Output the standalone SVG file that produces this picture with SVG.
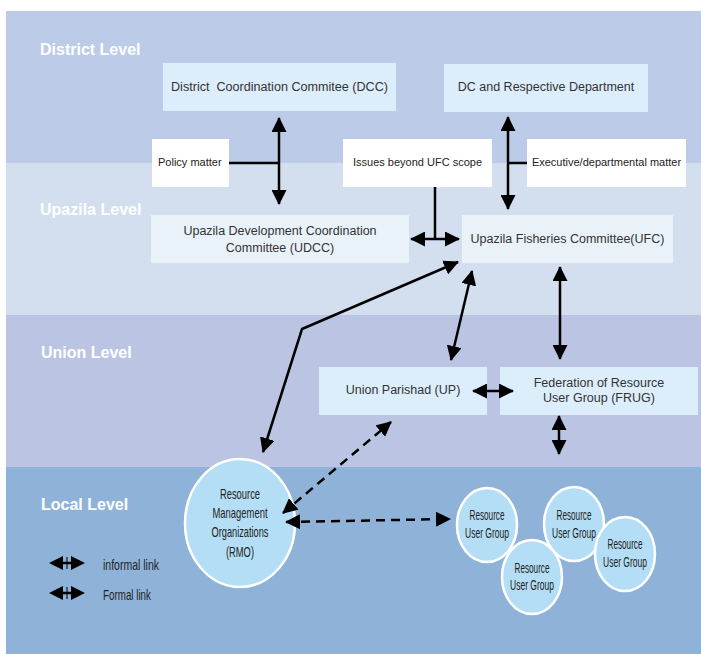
<svg xmlns="http://www.w3.org/2000/svg" width="701" height="654" viewBox="0 0 701 654">
<style>
.lvl{font-family:"Liberation Sans",Arial,sans-serif;font-weight:bold;font-size:16px;fill:#ffffff}
.bx{font-family:"Liberation Sans",Arial,sans-serif;font-size:12.5px;fill:#333333}
.sm{font-family:"Liberation Sans",Arial,sans-serif;font-size:11px;fill:#222222}
.cn{font-family:"Liberation Sans",Arial,sans-serif;font-size:15px;fill:#222222}
.cs{font-family:"Liberation Sans",Arial,sans-serif;font-size:14px;fill:#222222}
.ln{fill:none;stroke:#000;stroke-width:2.5}
.ar{fill:none;stroke:#000;stroke-width:2.5;marker-start:url(#ah);marker-end:url(#ah)}
.da{fill:none;stroke:#000;stroke-width:2.5;stroke-dasharray:9 6;marker-start:url(#ah);marker-end:url(#ah)}
.c{fill:#B4DEF5;stroke:#ffffff;stroke-width:2.5}
</style>
<defs>
<marker id="ah" viewBox="0 0 15 15" refX="14" refY="7.5" markerWidth="15" markerHeight="15" markerUnits="userSpaceOnUse" orient="auto-start-reverse">
<path d="M0,0 L15,7.5 L0,15 z" fill="#000"/>
</marker>
</defs>
<rect x="0" y="0" width="701" height="654" fill="#ffffff"/>
<g id="bands">
<rect x="6" y="11" width="695" height="152" fill="#BCCBE8"/>
<rect x="6" y="163" width="695" height="152" fill="#D3DEEE"/>
<rect x="6" y="315" width="695" height="152" fill="#BBC5E3"/>
<rect x="6" y="467" width="695" height="187" fill="#8FB2D9"/>
<text class="lvl" x="40" y="55">District Level</text>
<text class="lvl" x="40" y="215">Upazila Level</text>
<text class="lvl" x="41" y="358">Union Level</text>
<text class="lvl" x="41" y="510">Local Level</text>
</g>
<g id="dcc">
<rect x="163" y="63" width="233" height="48" fill="#DCEDFB"/>
<text class="bx" x="279.5" y="91" text-anchor="middle" xml:space="preserve" textLength="217" lengthAdjust="spacingAndGlyphs">District  Coordination Commitee (DCC)</text>
</g>
<g id="dc">
<rect x="444" y="64" width="204" height="48" fill="#DCEDFB"/>
<text class="bx" x="546" y="91" text-anchor="middle">DC and Respective Department</text>
</g>
<g id="policy">
<rect x="152" y="139" width="77" height="48" fill="#ffffff"/>
<text class="sm" x="158" y="166">Policy matter</text>
</g>
<g id="issues">
<rect x="343" y="139" width="149" height="48" fill="#ffffff"/>
<text class="sm" x="417.5" y="166" text-anchor="middle">Issues beyond UFC scope</text>
</g>
<g id="exec">
<rect x="527" y="139" width="159" height="48" fill="#ffffff"/>
<text class="sm" x="606.5" y="166" text-anchor="middle">Executive/departmental matter</text>
</g>
<g id="udcc">
<rect x="151" y="215" width="258" height="48" fill="#E9F2F9"/>
<text class="bx" x="280" y="235" text-anchor="middle">Upazila Development Coordination</text>
<text class="bx" x="280" y="252" text-anchor="middle">Committee (UDCC)</text>
</g>
<g id="ufc">
<rect x="462" y="215" width="211" height="48" fill="#E9F2F9"/>
<text class="bx" x="567.5" y="243" text-anchor="middle">Upazila Fisheries Committee(UFC)</text>
</g>
<g id="up">
<rect x="319" y="367" width="168" height="48" fill="#DCEDFB"/>
<text class="bx" x="403" y="394" text-anchor="middle">Union Parishad (UP)</text>
</g>
<g id="frug">
<rect x="500" y="367" width="198" height="48" fill="#DCEDFB"/>
<text class="bx" x="599" y="387" text-anchor="middle">Federation of Resource</text>
<text class="bx" x="599" y="402" text-anchor="middle">User Group (FRUG)</text>
</g>
<g id="rmo">
<ellipse class="c" cx="240" cy="523" rx="55" ry="64"/>
<text class="cn" x="240" y="499" text-anchor="middle" textLength="40" lengthAdjust="spacingAndGlyphs">Resource</text>
<text class="cn" x="240" y="518" text-anchor="middle" textLength="55" lengthAdjust="spacingAndGlyphs">Management</text>
<text class="cn" x="240" y="537" text-anchor="middle" textLength="57" lengthAdjust="spacingAndGlyphs">Organizations</text>
<text class="cn" x="240" y="557" text-anchor="middle" textLength="28" lengthAdjust="spacingAndGlyphs">(RMO)</text>
</g>
<g id="rug1">
<ellipse class="c" cx="487" cy="525" rx="30" ry="37"/>
<text class="cs" x="487" y="520" text-anchor="middle" textLength="35" lengthAdjust="spacingAndGlyphs">Resource</text>
<text class="cs" x="487" y="538" text-anchor="middle" textLength="44" lengthAdjust="spacingAndGlyphs">User Group</text>
</g>
<g id="rug3">
<ellipse class="c" cx="574" cy="524" rx="30" ry="37"/>
<text class="cs" x="574" y="520" text-anchor="middle" textLength="35" lengthAdjust="spacingAndGlyphs">Resource</text>
<text class="cs" x="574" y="538" text-anchor="middle" textLength="44" lengthAdjust="spacingAndGlyphs">User Group</text>
</g>
<g id="rug2">
<ellipse class="c" cx="532" cy="577" rx="30" ry="37"/>
<text class="cs" x="532" y="573" text-anchor="middle" textLength="35" lengthAdjust="spacingAndGlyphs">Resource</text>
<text class="cs" x="532" y="590" text-anchor="middle" textLength="44" lengthAdjust="spacingAndGlyphs">User Group</text>
</g>
<g id="rug4">
<ellipse class="c" cx="625" cy="554" rx="30" ry="37"/>
<text class="cs" x="625" y="549" text-anchor="middle" textLength="35" lengthAdjust="spacingAndGlyphs">Resource</text>
<text class="cs" x="625" y="567" text-anchor="middle" textLength="44" lengthAdjust="spacingAndGlyphs">User Group</text>
</g>
<g id="connectors">
<line class="ar" x1="279" y1="118" x2="279" y2="204"/>
<line class="ln" x1="229" y1="163" x2="279" y2="163"/>
<line class="ar" x1="508" y1="117" x2="508" y2="209"/>
<line class="ln" x1="527" y1="163" x2="508" y2="163"/>
<line class="ln" x1="435" y1="187" x2="435" y2="239"/>
<line class="ar" x1="411" y1="239" x2="459" y2="239"/>
<line class="ar" x1="472" y1="271" x2="451" y2="360"/>
<polyline class="ar" points="458,262 302,329 263,452"/>
<line class="ar" x1="560" y1="267" x2="560" y2="359"/>
<line class="ar" x1="473" y1="391" x2="513" y2="391"/>
<line class="ar" x1="559" y1="416" x2="559" y2="454"/>
<line class="da" x1="283" y1="513" x2="391" y2="422"/>
<line class="da" x1="286" y1="522" x2="450" y2="519"/>
</g>
<g id="legend">
<path d="M49,563 L63,556 L63,570 z M85,563 L71,556 L71,570 z" fill="#000"/>
<line x1="63" y1="563" x2="71" y2="563" stroke="#000" stroke-width="2.5"/>
<line x1="67" y1="557" x2="67" y2="569" stroke="#000" stroke-width="1"/>
<text class="cn" x="103" y="570" textLength="56" lengthAdjust="spacingAndGlyphs">informal link</text>
<path d="M49,593 L63,586 L63,600 z M85,593 L71,586 L71,600 z" fill="#000"/>
<line x1="63" y1="593" x2="71" y2="593" stroke="#000" stroke-width="2.5"/>
<line x1="67" y1="587" x2="67" y2="599" stroke="#000" stroke-width="1"/>
<text class="cn" x="103" y="600" textLength="48" lengthAdjust="spacingAndGlyphs">Formal link</text>
</g>
</svg>
